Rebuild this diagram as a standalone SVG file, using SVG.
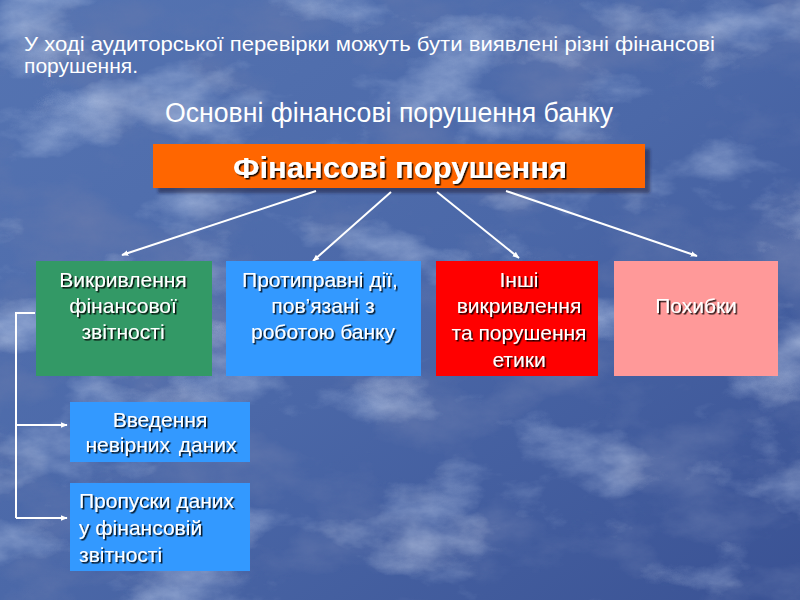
<svg xmlns="http://www.w3.org/2000/svg" width="800" height="600" viewBox="0 0 800 600">
<defs>
<linearGradient id="bg" x1="0" y1="0" x2="1" y2="1">
<stop offset="0" stop-color="#5574b2"/>
<stop offset="0.5" stop-color="#4b68a8"/>
<stop offset="1" stop-color="#3a5294"/>
</linearGradient>
<filter id="marble" x="0" y="0" width="100%" height="100%">
<feTurbulence type="fractalNoise" baseFrequency="0.008 0.014" numOctaves="6" seed="11" result="n"/>
<feColorMatrix in="n" type="matrix" values="0 0 0 0 0.62  0 0 0 0 0.72  0 0 0 0 0.92  1.5 0 0 0 -0.8" result="light"/>
<feColorMatrix in="n" type="matrix" values="0 0 0 0 0.13  0 0 0 0 0.19  0 0 0 0 0.42  0 2.2 0 0 -1.02" result="dark"/>
<feMerge><feMergeNode in="dark"/><feMergeNode in="light"/></feMerge>
</filter>
<filter id="ts" x="-10%" y="-20%" width="120%" height="150%">
<feDropShadow dx="1.5" dy="1.5" stdDeviation="0.3" flood-color="#000" flood-opacity="0.9"/>
</filter>
<filter id="bs" x="-5%" y="-10%" width="115%" height="130%">
<feDropShadow dx="5" dy="5" stdDeviation="1.5" flood-color="#1a2440" flood-opacity="0.55"/>
</filter>
<marker id="ah" viewBox="0 0 10 10" refX="9" refY="5" markerWidth="7" markerHeight="7" orient="auto" markerUnits="userSpaceOnUse">
<path d="M0,1 L10,5 L0,9 z" fill="#fff"/>
</marker>
<style>
.t{fill:#fff;font-family:"Liberation Sans",Arial,sans-serif;}
.bt{font-size:21px;text-anchor:middle;}
.c{stroke:#fff;stroke-width:2;fill:none;}
</style>
</defs>
<rect width="800" height="600" fill="url(#bg)"/>
<rect width="800" height="600" filter="url(#marble)"/>

<g id="intro" class="t">
<text x="24" y="51" font-size="20" textLength="691" lengthAdjust="spacingAndGlyphs">У ході аудиторської перевірки можуть бути виявлені різні фінансові</text>
<text x="24" y="73" font-size="20" textLength="114" lengthAdjust="spacingAndGlyphs">порушення.</text>
<text x="165" y="122" font-size="27" textLength="448" lengthAdjust="spacingAndGlyphs">Основні фінансові порушення банку</text>
</g>

<g id="root">
<rect x="153" y="144" width="492" height="44" fill="#ff6600" filter="url(#bs)"/>
<text class="t" x="233" y="178" font-size="29" font-weight="bold" textLength="334" lengthAdjust="spacingAndGlyphs" filter="url(#ts)">Фінансові  порушення</text>
</g>

<g id="connectors">
<line class="c" x1="316" y1="191" x2="122" y2="255" marker-end="url(#ah)"/>
<line class="c" x1="391" y1="192" x2="313" y2="261" marker-end="url(#ah)"/>
<line class="c" x1="437" y1="192" x2="519" y2="258" marker-end="url(#ah)"/>
<line class="c" x1="506" y1="191" x2="697" y2="256" marker-end="url(#ah)"/>
<polyline class="c" points="35,313 16,313 16,518"/>
<line class="c" x1="16" y1="425" x2="67" y2="425" marker-end="url(#ah)"/>
<line class="c" x1="16" y1="518" x2="67" y2="518" marker-end="url(#ah)"/>
</g>

<g id="n1">
<rect x="36" y="261" width="176" height="115" fill="#339966"/>
<g class="t bt" filter="url(#ts)">
<text x="123" y="287">Викривлення</text>
<text x="123" y="313">фінансової</text>
<text x="123" y="339">звітності</text>
</g>
</g>

<g id="n2">
<rect x="226" y="261" width="195" height="115" fill="#3399ff"/>
<g class="t bt" filter="url(#ts)">
<text x="320" y="287">Протиправні дії,</text>
<text x="323" y="313">пов’язані з</text>
<text x="323" y="339">роботою банку</text>
</g>
</g>

<g id="n3">
<rect x="436" y="261" width="162" height="115" fill="#ff0000"/>
<g class="t bt" filter="url(#ts)">
<text x="519" y="287">Інші</text>
<text x="519" y="313">викривлення</text>
<text x="519" y="340">та порушення</text>
<text x="519" y="367">етики</text>
</g>
</g>

<g id="n4">
<rect x="614" y="261" width="164" height="115" fill="#ff9999"/>
<text class="t bt" x="696" y="313" filter="url(#ts)">Похибки</text>
</g>

<g id="n5">
<rect x="70" y="402" width="180" height="60" fill="#3399ff"/>
<g class="t" font-size="21" text-anchor="middle" filter="url(#ts)">
<text x="160" y="427">Введення</text>
<text x="161" y="452" word-spacing="3">невірних даних</text>
</g>
</g>

<g id="n6">
<rect x="70" y="483" width="180" height="88" fill="#3399ff"/>
<g class="t" font-size="21" filter="url(#ts)">
<text x="79" y="508">Пропуски даних</text>
<text x="79" y="535">у фінансовій</text>
<text x="79" y="562">звітності</text>
</g>
</g>
</svg>
